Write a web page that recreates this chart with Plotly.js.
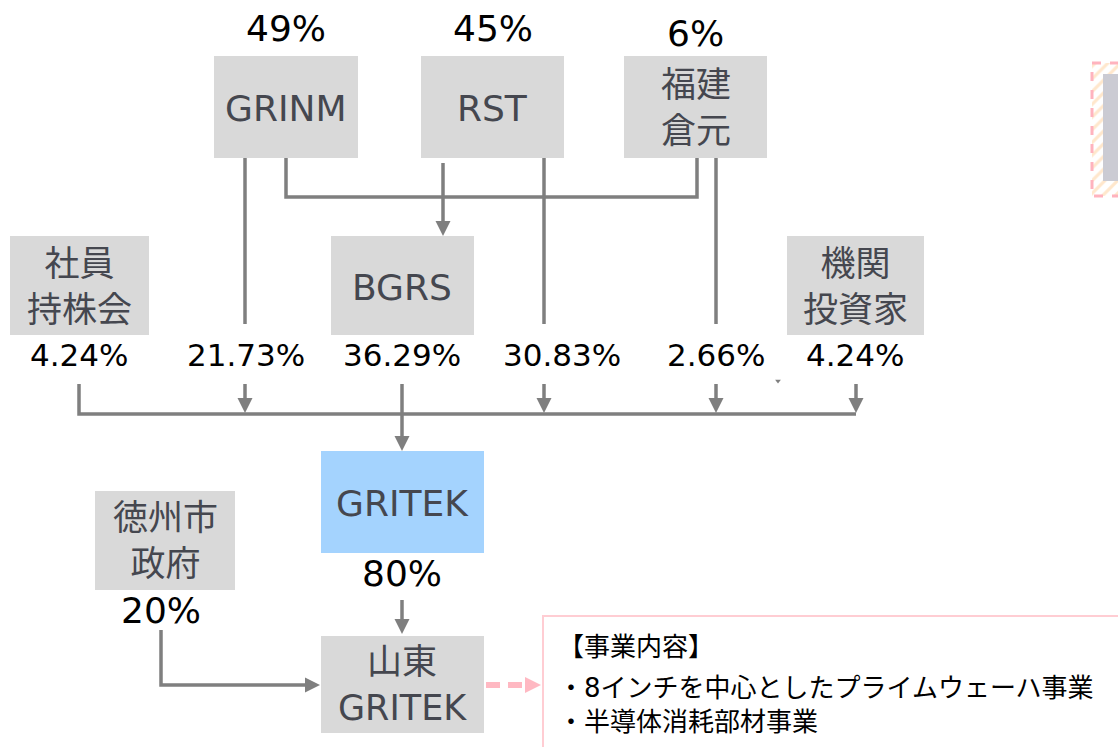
<!DOCTYPE html>
<html><head><meta charset="utf-8">
<script src="https://cdn.plot.ly/plotly-3.0.1.min.js"></script>
<style>html,body{margin:0;padding:0;background:#fff}#chart{width:1118px;height:747px}</style>
</head><body><div id="chart"></div>
<script>
// ---- data ----
const topOwners = ['GRINM', 'RST', '福建<br>倉元'];
const topShares = [49, 45, 6];                       // % of BGRS
const gritekHolders = ['社員<br>持株会', 'GRINM', 'BGRS', 'RST', '福建倉元', '機関<br>投資家'];
const gritekShares = [4.24, 21.73, 36.29, 30.83, 2.66, 4.24]; // % of GRITEK
const subHolders = ['GRITEK', '徳州市<br>政府'];
const subShares = [80, 20];                           // % of 山東GRITEK
const subsidiary = '山東<br>GRITEK';
const businessLines = ['【事業内容】', '・8インチを中心としたプライムウェーハ事業', '・半導体消耗部材事業'];

// ---- layout geometry (pixel space) ----
const GREY = '#D9D9D9', LINE = '#7F7F7F', TXT = '#45474F', PINK = '#FFB8C2';
const FONT = 'DejaVu Sans, Noto Sans CJK JP, sans-serif';
const shapes = [], annotations = [];

function rect(x0, y0, x1, y1, fill, layer) {
  shapes.push({type: 'rect', xref: 'x', yref: 'y', x0, y0, x1, y1, fillcolor: fill, line: {width: 0}, layer: layer || 'below'});
}
function seg(pts, color, w, dash) {
  const d = pts.map((p, i) => (i ? 'L' : 'M') + p[0] + ',' + p[1]).join(' ');
  shapes.push({type: 'path', xref: 'x', yref: 'y', path: d, line: {color: color || LINE, width: w || 3.5, dash: dash || 'solid'}});
}
function head(x, y, dir, color, s) {
  s = s || 15; const h = s / 2; let d;
  if (dir === 'down') d = `M${x - h},${y - s} L${x + h},${y - s} L${x},${y} Z`;
  else d = `M${x - s},${y - h} L${x - s},${y + h} L${x},${y} Z`;
  shapes.push({type: 'path', xref: 'x', yref: 'y', path: d, fillcolor: color || LINE, line: {width: 0}});
}
function text(x, y, t, size, color, anchor) {
  annotations.push({x, y, xref: 'x', yref: 'y', text: t, showarrow: false,
    xanchor: anchor || 'center', yanchor: 'middle',
    font: {family: FONT, size: size, color: color || '#000'}});
}

// top owners of BGRS
const topBox = [[214, 358], [421, 564], [624, 767]];
const topLabelY = [28, 28, 33];
topOwners.forEach((n, i) => {
  const [a, b] = topBox[i];
  rect(a, 56, b, 158, GREY);
  text((a + b) / 2, 108, n, n.length > 6 ? 35 : 36, TXT);
  text((a + b) / 2, topLabelY[i], topShares[i] + '%', 36);
});

// holders of GRITEK: boxes
rect(10, 236, 149, 335, GREY); text(79, 287, gritekHolders[0], 35, TXT);
rect(331, 474, 0, 0, GREY); shapes.pop();
rect(331, 236, 474, 335, GREY); text(402, 287, gritekHolders[2], 36, TXT);
rect(787, 236, 924, 335, GREY); text(855, 287, gritekHolders[5], 35, TXT);

// share labels
const shareX = [79, 246, 402, 562, 716, 855];
gritekShares.forEach((v, i) => text(shareX[i], 355, v.toFixed(2) + '%', 31));

// connectors from top row
seg([[245, 158], [245, 324]]);
seg([[544, 158], [544, 324]]);
seg([[716, 158], [716, 324]]);
seg([[286, 158], [286, 197], [697, 197], [697, 158]]);
seg([[443, 163], [443, 222]]); head(443, 236, 'down');

// collector line into GRITEK
seg([[79, 384], [79, 414], [856, 414]]);
[245, 544, 716, 856].forEach(x => { seg([[x, 384], [x, 400]]); head(x, 413, 'down'); });
seg([[402, 384], [402, 438]]); head(402, 451, 'down');

// GRITEK and subsidiary
rect(321, 451, 484, 553, '#A4D3FE'); text(402, 503, subHolders[0], 36, TXT);
text(402, 573, subShares[0] + '%', 36);
seg([[402, 600], [402, 620]]); head(402, 634, 'down');
rect(95, 491, 235, 590, GREY); text(165, 541, subHolders[1], 35, TXT);
text(161, 610, subShares[1] + '%', 36);
seg([[161, 630], [161, 685], [306, 685]]); head(320, 685, 'right');
rect(321, 636, 484, 733, GREY); text(402, 685, subsidiary, 35, TXT);

// business description
seg([[486, 685], [528, 685]], PINK, 6, '14px,8px'); head(541, 685, 'right', PINK, 16);
shapes.push({type: 'rect', xref: 'x', yref: 'y', x0: 543, y0: 616, x1: 1130, y1: 760, line: {color: '#FFCDD3', width: 2}, layer: 'above'});
const bizY = [647, 688, 722];
businessLines.forEach((t, i) => text(556, bizY[i], t, 26, '#000', 'left'));

// partial box at top right
shapes.push({type: 'rect', xref: 'x', yref: 'y', x0: 1103, y0: 74, x1: 1130, y1: 181, fillcolor: '#CBCBD3', line: {width: 0}, layer: 'above'});
shapes.push({type: 'rect', xref: 'x', yref: 'y', x0: 1092, y0: 63, x1: 1130, y1: 196, line: {color: '#FFB3BE', width: 3, dash: 'dash'}, layer: 'above'});

const traces = [
  {type: 'scatter', mode: 'lines', x: [1092, 1130, 1130, 1092, 1092], y: [63, 63, 196, 196, 63],
   fill: 'toself', fillcolor: '#fff', line: {width: 0}, hoverinfo: 'skip',
   fillpattern: {shape: '/', fgcolor: '#FFE7CC', bgcolor: '#FFFFFF', size: 9, solidity: 0.35}},
  {type: 'scatter', mode: 'markers', x: [778], y: [381], marker: {symbol: 'triangle-down', size: 5, color: LINE}, hoverinfo: 'skip'}
];

Plotly.newPlot('chart', traces, {
  width: 1118, height: 747, margin: {l: 0, r: 0, t: 0, b: 0},
  paper_bgcolor: '#fff', plot_bgcolor: '#fff', showlegend: false,
  xaxis: {range: [0, 1118], visible: false, fixedrange: true},
  yaxis: {range: [747, 0], visible: false, fixedrange: true},
  shapes, annotations
}, {staticPlot: true});
</script></body></html>
